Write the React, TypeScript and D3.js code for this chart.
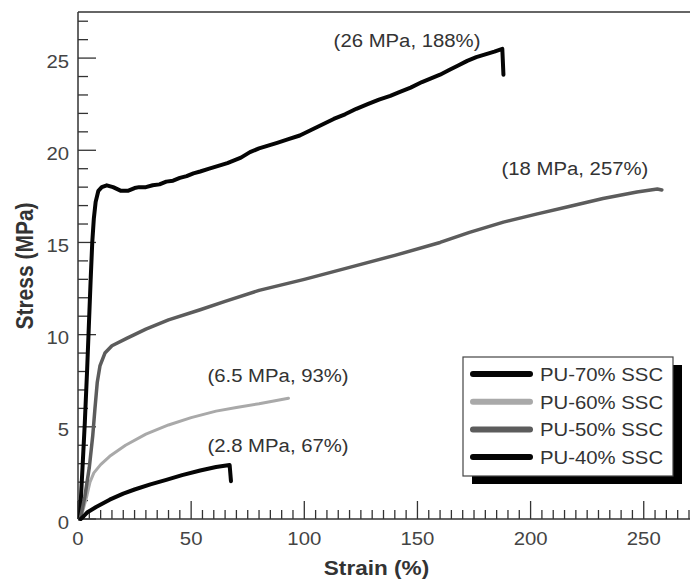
import React from 'react';
import * as d3 from 'd3';

const W = 690;
const H = 582;

const xMajorTicks = [0, 50, 100, 150, 200, 250];
const yMajorTicks = [0, 5, 10, 15, 20, 25];
const xMinorStep = 5;
const yMinorStep = 1;

const seriesNames = ['PU-70% SSC', 'PU-60% SSC', 'PU-50% SSC', 'PU-40% SSC'];
const seriesColors = ['#050505', '#a9a9a9', '#5c5c5c', '#050505'];
const seriesWidths = [4, 3, 3.5, 4];

// [strain %, stress MPa]
const pu70: [number, number][] = [
  [0.8, 0], [2, 2.8], [3, 5.2], [4, 8.0], [4.8, 10.5], [5.6, 13.0], [6.3, 15.0], [7, 16.3], [7.8, 17.2],
  [9, 17.8], [10.5, 18.0], [12.7, 18.1], [15.5, 18.0], [19, 17.8], [22, 17.8], [25, 17.95],
  [27, 18.0], [30, 18.0], [33, 18.1], [36, 18.15], [39, 18.3], [42, 18.35], [45, 18.5], [48, 18.6],
  [51, 18.75], [54, 18.85], [58, 19.0], [62, 19.15], [66, 19.3], [69, 19.45], [72, 19.6], [76, 19.9],
  [80, 20.1], [84, 20.25], [88, 20.4], [93, 20.6], [98, 20.8], [103, 21.1], [108, 21.4], [113, 21.7],
  [118, 21.95], [123, 22.25], [128, 22.5], [133, 22.75], [138, 22.95], [142, 23.15], [147, 23.4],
  [152, 23.7], [156, 23.9], [160, 24.1], [164, 24.35], [168, 24.6], [172, 24.85], [176, 25.05],
  [180, 25.2], [184, 25.35], [187.5, 25.5], [188, 24.1],
];

const pu60: [number, number][] = [
  [1, 0], [2.5, 0.6], [4, 1.3], [5.3, 2.0], [7, 2.5], [10, 2.95], [14, 3.4], [21, 4.0], [30, 4.6],
  [40, 5.1], [50, 5.5], [61, 5.85], [70, 6.05], [80, 6.25], [93, 6.55],
];

const pu50: [number, number][] = [
  [1, 0], [3, 1.2], [5, 2.8], [6.5, 4.5], [7.5, 6.0], [8.5, 7.4], [9.7, 8.3], [11.9, 9.0], [15, 9.4],
  [21.5, 9.8], [30, 10.3], [40, 10.8], [54, 11.35], [65, 11.8], [80, 12.4], [100, 13.0], [120, 13.65],
  [140, 14.3], [160, 15.0], [173, 15.55], [188, 16.1], [203, 16.55], [217, 16.95], [232, 17.38],
  [247, 17.74], [256, 17.9], [258, 17.85],
];

const pu40: [number, number][] = [
  [1.2, 0], [2.5, 0.15], [4, 0.35], [8, 0.65], [14, 1.05], [20, 1.38], [25, 1.6], [32, 1.88],
  [39, 2.12], [46, 2.38], [54, 2.63], [61, 2.82], [67, 2.93], [67.6, 2.05],
];

const seriesData = [pu70, pu60, pu50, pu40];

const annotationTexts = ['(26 MPa, 188%)', '(18 MPa, 257%)', '(6.5 MPa, 93%)', '(2.8 MPa, 67%)'];
const annotationX = [145.4, 219.6, 88.4, 88.4];
const annotationY = [25.6, 18.65, 7.45, 3.65];

const xLabel = 'Strain (%)';
const yLabel = 'Stress (MPa)';

const FONT = '"Liberation Sans", Arial, Helvetica, sans-serif';
const SX = 1.13;

export default function App() {
  const x = d3.scaleLinear().domain([0, 270]).range([78, 689]);
  const y = d3.scaleLinear().domain([0, 27.5]).range([519, 12]);

  const line = d3
    .line<[number, number]>()
    .x((d) => x(d[0]))
    .y((d) => y(d[1]))
    .curve(d3.curveLinear);

  const xMinor = d3.range(0, 270.01, xMinorStep).filter((v) => !xMajorTicks.includes(v));
  const yMinor = d3.range(0, 27.5, yMinorStep).filter((v) => !yMajorTicks.includes(v));

  const x0 = x(0);
  const y0 = y(0);
  const xEnd = W + 5;
  const yTop = y(27.5);

  const legend = { left: 463, top: 357, w: 210, h: 119, rowY0: 374, rowDy: 27.7 };

  return (
    <svg
      width={W}
      height={H}
      viewBox={`0 0 ${W} ${H}`}
      style={{ position: 'absolute', left: 0, top: 0, background: '#fff' }}
    >
      <rect x={0} y={0} width={W} height={H} fill="#fff" />

      {/* frame */}
      <line x1={x0} y1={yTop} x2={xEnd} y2={yTop} stroke="#333" strokeWidth={1.5} />
      <line x1={x0} y1={yTop} x2={x0} y2={y0} stroke="#333" strokeWidth={1.5} />
      <line x1={x0} y1={y0} x2={xEnd} y2={y0} stroke="#333" strokeWidth={1.5} />

      {/* x ticks */}
      {xMajorTicks.map((v) => (
        <line key={'xM' + v} x1={x(v)} x2={x(v)} y1={y0} y2={y0 - 18} stroke="#333" strokeWidth={1.3} />
      ))}
      {xMinor.map((v) => (
        <line key={'xm' + v} x1={x(v)} x2={x(v)} y1={y0} y2={y0 - 9} stroke="#333" strokeWidth={1.3} />
      ))}
      {xMajorTicks.map((v) => (
        <text
          key={'xl' + v}
          transform={`translate(${x(v)},${y0 + 26}) scale(${SX},1)`}
          textAnchor="middle"
          fontFamily={FONT}
          fontSize={18}
          fill="#444"
        >
          {v}
        </text>
      ))}

      {/* y ticks */}
      {yMajorTicks.map((v) => (
        <line key={'yM' + v} x1={x0} x2={x0 + 18} y1={y(v)} y2={y(v)} stroke="#333" strokeWidth={1.3} />
      ))}
      {yMinor.map((v) => (
        <line key={'ym' + v} x1={x0} x2={x0 + 10} y1={y(v)} y2={y(v)} stroke="#333" strokeWidth={1.3} />
      ))}
      {yMajorTicks.map((v) => (
        <text
          key={'yl' + v}
          transform={`translate(69,${y(v) + 9.5}) scale(${SX},1)`}
          textAnchor="end"
          fontFamily={FONT}
          fontSize={18}
          fill="#444"
        >
          {v}
        </text>
      ))}

      {/* axis titles */}
      <text
        transform={`translate(${(x0 + 689) / 2 - 7},575) scale(${SX},1)`}
        textAnchor="middle"
        fontFamily={FONT}
        fontSize={20}
        fontWeight="bold"
        fill="#333"
      >
        {xLabel}
      </text>
      <text
        transform={`translate(33,266) rotate(-90) scale(1,${SX})`}
        textAnchor="middle"
        fontFamily={FONT}
        fontSize={21}
        fontWeight="bold"
        fill="#333"
      >
        {yLabel}
      </text>

      {/* curves */}
      {seriesData.map((d, i) => (
        <path
          key={'s' + i}
          d={line(d) || ''}
          fill="none"
          stroke={seriesColors[i]}
          strokeWidth={seriesWidths[i]}
          strokeLinejoin="round"
          strokeLinecap="round"
        />
      ))}

      {/* annotations */}
      {annotationTexts.map((t, i) => (
        <text
          key={'a' + i}
          transform={`translate(${x(annotationX[i])},${y(annotationY[i])}) scale(${SX},1)`}
          textAnchor="middle"
          fontFamily={FONT}
          fontSize={18}
          fill="#333"
        >
          {t}
        </text>
      ))}

      {/* legend */}
      <rect x={legend.left + 9} y={legend.top + 8} width={legend.w} height={legend.h} fill="#000" />
      <rect x={legend.left} y={legend.top} width={legend.w} height={legend.h} fill="#fff" stroke="#444" strokeWidth={1.2} />
      {seriesNames.map((n, i) => {
        const ry = legend.rowY0 + i * legend.rowDy;
        return (
          <g key={'lg' + i}>
            <line
              x1={legend.left + 10}
              x2={legend.left + 67}
              y1={ry}
              y2={ry}
              stroke={seriesColors[i]}
              strokeWidth={6}
              strokeLinecap="round"
            />
            <text
              transform={`translate(${legend.left + 77},${ry + 7}) scale(${SX},1)`}
              fontFamily={FONT}
              fontSize={18}
              fill="#333"
            >
              {n}
            </text>
          </g>
        );
      })}
    </svg>
  );
}
